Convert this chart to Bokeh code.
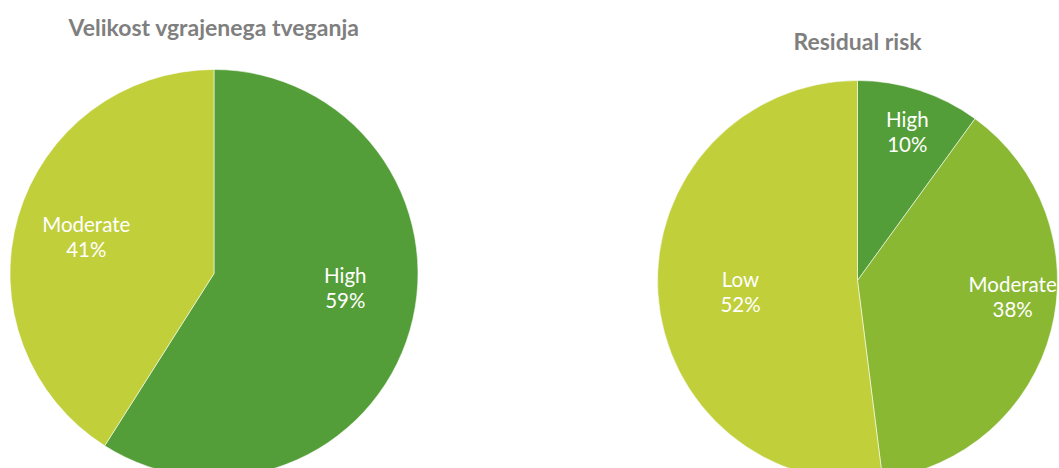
import numpy as np
from bokeh.plotting import figure
from bokeh.models import Range1d, ColumnDataSource
from bokeh.core.properties import value
from bokeh.embed import file_html
from bokeh.resources import INLINE

# ---- data ----
left_title = "Velikost vgrajenega tveganja"
left_categories = ["High", "Moderate"]
left_values = [59, 41]

right_title = "Residual risk"
right_categories = ["High", "Moderate", "Low"]
right_values = [10, 38, 52]

# ---- styles / layout ----
left_colors = ["#549E39", "#C0CF3A"]
right_colors = ["#549E39", "#8AB833", "#C0CF3A"]
title_color = "#7F7F7F"
FONT = "Lato"

W, H = 1059, 468


def sy(y):
    return H - y


p = figure(width=W, height=H, output_backend="svg", toolbar_location=None,
           x_range=Range1d(0, W), y_range=Range1d(0, H),
           min_border=0, x_axis_location=None, y_axis_location=None)
p.grid.visible = False
p.outline_line_color = None
p.background_fill_color = "white"


def draw_pie(cx, cy, r, cats, vals, colors, label_polar):
    vals = np.asarray(vals, dtype=float)
    frac = vals / vals.sum()
    ends = np.cumsum(frac)
    starts = ends - frac
    # clockwise from 12 o'clock
    start_ang = np.pi / 2 - 2 * np.pi * starts
    end_ang = np.pi / 2 - 2 * np.pi * ends
    src = ColumnDataSource(dict(x=[cx] * len(vals), y=[sy(cy)] * len(vals),
                                sa=start_ang, ea=end_ang, color=colors))
    p.wedge(x="x", y="y", radius=r, start_angle="sa", end_angle="ea",
            direction="clock", fill_color="color", line_color="white",
            line_width=0.8, line_alpha=0.7, source=src)
    lx, ly, lt = [], [], []
    for c, v, (ang, dist) in zip(cats, vals, label_polar):
        a = np.deg2rad(ang)
        lx.append(cx + dist * np.sin(a))
        ly.append(sy(cy - dist * np.cos(a)))
        lt.append(f"{c}\n{int(round(v))}%")
    p.text(x=lx, y=ly, text=lt, text_color="white", text_font=value(FONT),
           text_font_size="20.5px", text_align="center", text_baseline="middle",
           text_line_height=1.05)


# label placements (clockwise angle from top in degrees, distance in px)
draw_pie(213.5, 273, 204, left_categories, left_values, left_colors,
         [(96.1, 132), (286.2, 133)])
draw_pie(857, 280, 200, right_categories, right_values, right_colors,
         [(18.5, 157), (95.9, 156), (264.6, 117.5)])

p.text(x=[213.5], y=[sy(26)], text=[left_title], text_color=title_color,
       text_font=value(FONT), text_font_style="bold", text_font_size="23px",
       text_align="center", text_baseline="middle")
p.text(x=[857], y=[sy(40.5)], text=[right_title], text_color=title_color,
       text_font=value(FONT), text_font_style="bold", text_font_size="23px",
       text_align="center", text_baseline="middle")

open("out.html", "w").write(file_html(p, INLINE))
